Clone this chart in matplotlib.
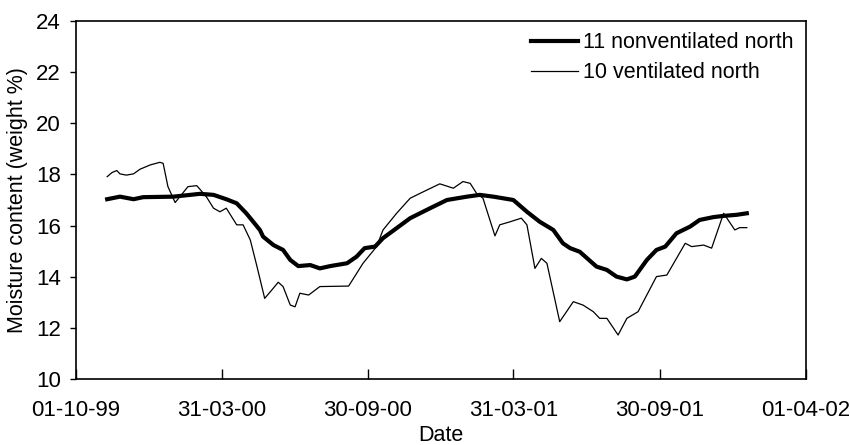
import pandas as pd
import numpy as np
import matplotlib
matplotlib.use("Agg")
import matplotlib.pyplot as plt

## Data: days after 01-10-1999 and moisture content (weight %)
start = pd.Timestamp("1999-10-01")

days_11 = [39, 55, 72, 84, 122, 155, 172, 188, 201, 213, 218, 230, 234, 247, 259,
           268, 278, 293, 305, 318, 339, 351, 361, 374, 384, 401, 418, 443, 464,
           489, 505, 522, 547, 564, 580, 597, 609, 618, 630, 651, 664, 676, 689,
           699, 714, 726, 737, 751, 768, 780, 797, 810, 826, 839]
mc_11 = [17.03, 17.13, 17.03, 17.11, 17.13, 17.24, 17.20, 17.03, 16.87, 16.48,
         16.29, 15.83, 15.57, 15.24, 15.05, 14.66, 14.42, 14.46, 14.33, 14.42,
         14.53, 14.79, 15.12, 15.18, 15.51, 15.90, 16.29, 16.68, 17.00, 17.13,
         17.20, 17.13, 17.00, 16.54, 16.15, 15.83, 15.31, 15.12, 14.98, 14.40,
         14.27, 14.01, 13.90, 14.01, 14.66, 15.05, 15.18, 15.70, 15.96, 16.22,
         16.33, 16.38, 16.42, 16.48]

days_10 = [39, 45, 51, 55, 63, 72, 80, 93, 105, 109, 115, 124, 130, 140, 151,
           155, 163, 172, 180, 188, 201, 209, 218, 226, 236, 245, 253, 259, 268,
           274, 280, 291, 305, 341, 359, 376, 384, 401, 418, 439, 455, 472, 484,
           493, 501, 509, 524, 530, 543, 557, 564, 574, 582, 589, 605, 622, 634,
           647, 655, 664, 678, 689, 703, 726, 739, 762, 770, 785, 795, 810, 824,
           830, 839]
mc_10 = [17.91, 18.07, 18.15, 18.02, 17.97, 18.02, 18.20, 18.37, 18.47, 18.43,
         17.52, 16.90, 17.13, 17.52, 17.56, 17.42, 17.13, 16.68, 16.54, 16.68,
         16.03, 16.03, 15.44, 14.45, 13.16, 13.49, 13.79, 13.62, 12.90, 12.83,
         13.36, 13.29, 13.62, 13.64, 14.53, 15.18, 15.83, 16.48, 17.07, 17.39,
         17.63, 17.46, 17.72, 17.65, 17.26, 17.07, 15.60, 16.03, 16.15, 16.29,
         16.03, 14.33, 14.72, 14.53, 12.25, 13.03, 12.90, 12.64, 12.38, 12.38,
         11.73, 12.38, 12.64, 14.01, 14.07, 15.31, 15.18, 15.24, 15.12, 16.48,
         15.83, 15.92, 15.92]

tick_dates = ["1999-10-01", "2000-03-31", "2000-09-30", "2001-03-31", "2001-09-30", "2002-04-01"]
tick_labels = ["01-10-99", "31-03-00", "30-09-00", "31-03-01", "30-09-01", "01-04-02"]

dates_11 = start + pd.to_timedelta(days_11, unit="D")
dates_10 = start + pd.to_timedelta(days_10, unit="D")

plt.rcParams['font.family'] = ['Liberation Sans', 'DejaVu Sans']

fig = plt.figure(figsize=(8.5, 4.45), dpi=100)
ax = fig.add_axes([0.0894, 0.1476, 0.8588, 0.806])

ax.plot(dates_11, mc_11, color='black', lw=3.0, label='11 nonventilated north')
ax.plot(dates_10, mc_10, color='black', lw=0.9, label='10 ventilated north')

ax.set_ylim(10, 24)
ax.set_yticks(np.arange(10, 25, 2))
ax.set_xlim(pd.Timestamp(tick_dates[0]), pd.Timestamp(tick_dates[-1]))
ax.set_xticks([pd.Timestamp(d) for d in tick_dates])
ax.set_xticklabels(tick_labels)

ax.tick_params(axis='x', direction='in', length=7, width=1, pad=15, labelsize=16)
ax.tick_params(axis='y', direction='out', length=4, width=1, pad=7, labelsize=16)
for s in ax.spines.values():
    s.set_linewidth(1.2)

ax.set_xlabel('Date', fontsize=15.5, labelpad=2.5)
ax.set_ylabel('Moisture content (weight %)', fontsize=15.5, labelpad=6)

ax.legend(loc='upper left', bbox_to_anchor=(0.623, 0.967), frameon=False,
          fontsize=15.5, handlelength=2.2, handletextpad=0.23, borderpad=0,
          borderaxespad=0, labelspacing=0.4)

plt.savefig('out.png', dpi=100)
plt.close()
